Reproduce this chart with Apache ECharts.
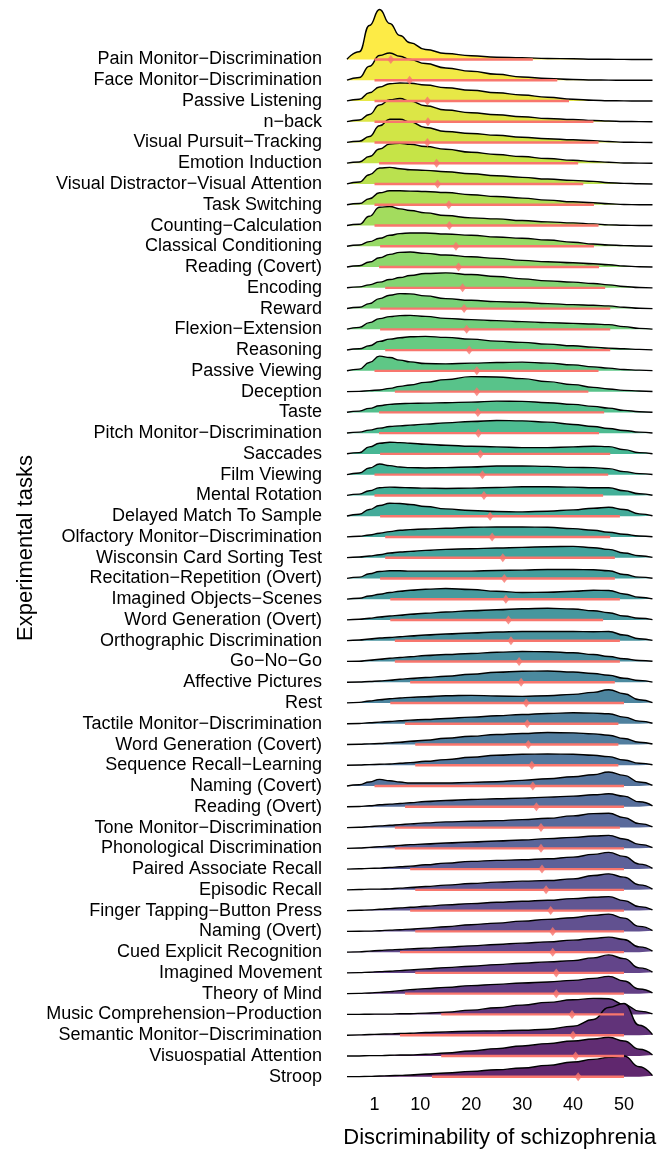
<!DOCTYPE html>
<html><head><meta charset="utf-8">
<script src="https://cdn.jsdelivr.net/npm/echarts@6/dist/echarts.min.js"></script>
<style>html,body{margin:0;padding:0;background:#fff}#chart{width:670px;height:1149px}</style>
</head><body><div id="chart"></div>
<script>
// ---- data ----
const tasks = ["Pain Monitor−Discrimination","Face Monitor−Discrimination","Passive Listening","n−back","Visual Pursuit−Tracking","Emotion Induction","Visual Distractor−Visual Attention","Task Switching","Counting−Calculation","Classical Conditioning","Reading (Covert)","Encoding","Reward","Flexion−Extension","Reasoning","Passive Viewing","Deception","Taste","Pitch Monitor−Discrimination","Saccades","Film Viewing","Mental Rotation","Delayed Match To Sample","Olfactory Monitor−Discrimination","Wisconsin Card Sorting Test","Recitation−Repetition (Overt)","Imagined Objects−Scenes","Word Generation (Overt)","Orthographic Discrimination","Go−No−Go","Affective Pictures","Rest","Tactile Monitor−Discrimination","Word Generation (Covert)","Sequence Recall−Learning","Naming (Covert)","Reading (Overt)","Tone Monitor−Discrimination","Phonological Discrimination","Paired Associate Recall","Episodic Recall","Finger Tapping−Button Press","Naming (Overt)","Cued Explicit Recognition","Imagined Movement","Theory of Mind","Music Comprehension−Production","Semantic Monitor−Discrimination","Visuospatial Attention","Stroop"];

// x positions at which the density of each task was read
const gridX = [-4.4,-2,0,2,4,6,8,11,15,20,25,30,35,40,44,47,50,53,55.6];

// relative density (same scale for all tasks), one row per task, at gridX
const densities = [
[0.2,7.7,34,50,36,24,16.7,10,6,3.7,2.3,1.7,1,0.7,0.3,0.2,0.1,0,0],
[0.1,2.7,14,24.7,27.3,24,20.7,16.7,12.3,9,6,3.3,1.7,0.7,0.3,0.1,0,0,0],
[0.1,1.7,8.3,14,17.3,18,17.7,16,13.3,10.7,8.3,6,3.7,1.7,0.7,0.3,0.1,0,0],
[0.1,1.7,7.3,16.7,22,23.3,20.7,16,11.7,9,7,5,3.3,2.3,1.3,0.7,0.3,0.1,0],
[0.1,1.3,6,16.7,23.3,23.3,20.7,15,11,9,7.3,5.3,3.7,2.7,1.7,1,0.3,0.1,0],
[0.1,1.3,6.7,14.3,19.3,20,19,16.7,14,11,8.7,6.7,4.7,3,1.7,1,0.3,0.1,0],
[0.1,2,9.3,16,16.7,15.3,14.3,13.7,12.3,10.3,8.3,6.7,5,3.7,2.7,1.3,0.7,0.3,0],
[0.1,1.3,6,12,14,14,13.7,13.3,12.3,10,8.3,6.7,4.7,3,2,1,0.3,0.1,0],
[0.1,1.3,9.3,18.3,19,16.7,15,12.7,10,7.7,6.7,5,3.7,2.7,1.7,0.7,0.3,0.1,0],
[0.1,1.3,4.7,8,11,12.7,13.3,13.3,12.3,11,9.3,8,6.3,4,2.3,1.3,0.7,0.3,0],
[0.1,1.3,5,9.3,12.7,14.7,15,13.7,12,10.3,8.7,6.7,5.3,4.3,3.3,2.3,1,0.3,0],
[0.1,1,3,5.7,8.3,10.3,12.3,14.3,15,13.3,11.3,9,7,5.7,4.3,3,1.3,0.3,0],
[0.1,1.3,5,10,13.3,15,14.7,12.7,10,8.3,7,6.3,5,4,3.3,2.7,1.3,0.3,0],
[0.2,2,6.7,10.7,12.7,13.7,14,13,11,9.7,8.7,7.7,6.7,6,5.3,4.7,2.7,1,0.2],
[0.1,1.3,4.3,8.7,11,12.3,13.3,13.7,12.7,11,9,7.7,6,4.3,3,2,1.3,0.7,0.2],
[0.1,1.7,8.3,14.7,13.3,10.7,9,7.3,7,7.7,8.3,8.7,7.7,6,4,2.7,1.3,0.7,0.2],
[0,0.3,1,1.7,3.3,5.3,6.7,9.3,12,15,14.7,13,10,7,4.3,2.7,1.3,0.7,0.2],
[0.1,1.3,4,6.7,8,8.7,9,9.3,9.7,10.3,11.3,11,9.7,8,6,4.3,2,0.7,0.2],
[0.1,1,3,5,6.7,7.3,8,9,10.3,11.7,12.7,12.3,11,8.7,6.7,4.7,2.7,1,0.2],
[0.1,1.3,7,10.7,11.7,11.3,10.7,9.7,8.7,7.7,7,6.3,6.3,7,7.7,7.3,4.3,1.3,0.2],
[0.1,1.7,6.7,10.7,9,7.7,7,6.7,7,7.7,8.7,8.7,8.3,7.3,7,6,3,1,0.2],
[0.1,1.3,4.7,7.7,8.3,8,7.7,7.3,7,7.3,8,8.7,8.7,8.3,7.7,7.7,4.7,1.7,0.2],
[0.2,2,6.7,10.7,13,12.7,11.7,9.7,7.3,5.7,4.7,4.3,5,6.3,8,9,6.7,2.3,0.4],
[0.1,0.7,2,3.7,5.3,6.7,7.3,8,8.7,9.7,10,10,9.7,8.3,6.7,4.7,2.7,1,0.2],
[0.1,0.7,1.7,3,4.7,5.7,6.3,7.3,8.3,9,9.7,10.3,11,11.3,10,8.3,4.7,2,0.4],
[0.1,1.3,4.7,7,7.7,7.7,7.3,7.3,7.3,7.3,8,8.3,9,9,8.7,7.7,4,1.3,0.2],
[0.1,1,3.3,5,6.7,8,9,10,10.7,9.7,8,6.7,7,8,9,8.7,5.3,2,0.4],
[0.1,0.7,1.7,3,4,4.7,5.7,6.7,8,9.3,10.3,11.3,11.7,11,9.3,7.3,4,1.7,0.4],
[0.1,0.7,1.7,2.7,3.3,4,4.7,5.7,6.7,7.7,8.7,9.3,9.3,9.3,9,9.3,5.7,2,0.4],
[0.1,0.3,1.3,2.3,3.3,4,4.7,6,7,8,9.3,10,9.7,8.7,7,5,2.7,1,0.2],
[0,0.3,0.7,1.3,2,3,3.7,4.7,6,8,10,11,11.3,10.3,8.7,7,4,1.7,0.2],
[0.1,0.7,2,3.3,4.3,5,5.7,6.3,7.3,7.7,7,6.7,7.3,8.7,10.7,13.3,9.3,3.3,0.5],
[0,0.3,1,1.7,2.3,3,3.7,4.3,5.3,6.7,8,9.3,10.3,11,10.7,10,6.7,2.7,0.5],
[0,0.3,0.7,1,1.7,2.3,3.3,4.3,6.3,8.3,10,11,12,11.7,10.7,9.3,6,2.3,0.5],
[0,0.3,0.7,1,1.3,2,2.7,4,5.7,8,10,11,11.3,11,10,8.7,5.3,2,0.5],
[0.1,1.3,4,6.7,5.3,4,3,3,3,3.7,4.3,5.7,7.3,9.3,11.3,14,10.7,4,0.7],
[0,0.3,1,2,2.7,3.3,4,5.3,6.3,7.3,8,8.7,9.7,10.7,12,13,10.7,5,1],
[0,0.3,1,1.7,2.3,3,3.7,4.7,5.7,6.3,7,8,9.3,11.7,14,14.3,10,4,0.7],
[0,0.3,1,1.7,2.3,3,3.7,4.3,5.3,6.3,7.3,8.3,9.7,11,12.3,13,9.3,4,0.7],
[0,0.3,0.7,1,1.7,2.3,3,4.3,6,7.7,8.7,9.3,10.3,12,14.7,16.7,12.7,5,0.7],
[0,0.3,0.7,0.7,1,1.7,2.3,3.3,4.7,6.3,7.7,8.7,9.3,11,14.3,16,12.7,5,0.7],
[0,0.3,0.7,1.3,2,2.7,3.3,4.3,5.7,7,8.3,9.3,10.3,12,13.3,14,10,4,0.7],
[0,0.2,0.3,0.7,1.3,1.7,2.3,3.3,4.7,6.7,8.3,10.3,12,13.7,16,17.3,13.3,5,0.7],
[0,0.3,1,1.7,2.3,2.7,3.3,4,5,6.3,7.7,9,10.3,12,13.7,15,12.7,5.3,1],
[0,0.3,0.7,1.3,1.7,2.3,3,4,5.3,6.7,8.3,9.7,11,12.3,15,18,14.3,5,0.7],
[0,0.3,0.7,1.3,2,3,4,5,6.3,8,9.3,10.7,11.7,13.3,15.3,17.3,12.7,4.7,0.7],
[0,0,0.2,0.3,0.3,0.7,0.7,1.3,2.3,4.3,6.7,9.3,12,14.7,16,15.7,10,3.3,0.5],
[0,0.3,0.7,1,1.3,1.7,2,2.7,3.3,4,4.3,5,6,9,15.7,27.7,31.7,10,0.5],
[0,0,0.3,0.3,0.7,1,1,1.7,3,5,7.3,10,12.3,15,17,18.7,15,6.7,1],
[0,0,0.3,0.7,1,1.3,1.7,2.7,3.7,5.3,7,8.7,11.3,14.7,17.3,19.3,20.7,10,1]
];

// interval shown by the red segment, and the diamond (mean)
const rangeLow  = [1,1,1,1,1,1.9,1,1,1,2.1,1.9,3.1,2.1,2.1,3.1,1,5.0,1.9,1.9,2.1,1,1,2.1,3.1,3.1,2.1,4.1,4.1,5.0,5.0,8.0,4.1,7.0,9.0,9.0,1,7.0,5.0,5.0,8.0,9.0,8.0,9.0,6.0,9.0,7.0,14.1,6.0,14.1,12.3];
const rangeHigh = [32.1,36.9,39.2,44.0,45.0,41.0,42.0,44.1,45.0,44.1,45.1,46.3,47.3,47.3,47.3,45.0,43.0,46.1,45.1,47.3,46.9,45.9,49.2,47.3,48.2,48.2,49.2,45.9,49.2,49.2,48.2,50,48.9,48.9,48.9,50,50,49.2,50,50,50,50,50,50,50,50,50,50,50,50];
const meanValue = [4.2,7.9,11.4,11.5,11.4,13.2,13.4,15.6,15.7,17.0,17.5,18.3,18.6,19.1,19.6,21.1,21.1,21.3,21.4,21.8,22.2,22.5,23.7,24.1,26.2,26.5,26.8,27.3,27.8,29.4,29.8,30.8,31.0,31.2,31.9,32.1,32.8,33.7,33.7,33.9,34.7,35.6,36.0,36.0,36.7,36.7,39.8,40.0,40.5,41.0];

const xTickValues = [1,10,20,30,40,50];

// ---- styling / layout ----
const N = tasks.length;
const heightScale = 1 / 20.76;
const FONT = '"Liberation Sans", Arial, Helvetica, sans-serif';
const viridisStops = ['#440154','#482475','#414487','#355F8D','#2A788E','#21918C','#22A884','#44BF70','#7AD151','#BDDF26','#FDE725'];
function hexToRgb(h){ return [1,3,5].map(k => parseInt(h.substr(k,2),16)); }
function viridis(t){
  const s = Math.max(0, Math.min(1, t)) * 10;
  const k = Math.min(9, Math.floor(s)); const f = s - k;
  const a = hexToRgb(viridisStops[k]), b = hexToRgb(viridisStops[k+1]);
  return a.map((v,j) => v + (b[j]-v)*f);
}
function fillColor(i){
  const c = viridis(1 - i/(N-1)); const al = 0.85;
  return 'rgb(' + c.map(v => Math.round(v*al + 255*(1-al))).join(',') + ')';
}
function rowBase(i){ return N - 1 - i; }

const series = [];
tasks.forEach((name, i) => {
  const base = rowBase(i);
  series.push({
    type: 'line', name: name,
    data: gridX.map((x, j) => [x, base + densities[i][j] * heightScale]),
    smooth: 0.5, smoothMonotone: 'x',
    showSymbol: false, symbol: 'none',
    lineStyle: { color: '#000', width: 1.4 },
    areaStyle: { origin: base, color: fillColor(i), opacity: 1 },
    z: 2 + i * 0.01, silent: true, animation: false
  });
});
series.push({
  type: 'custom', name: 'interval', silent: true, animation: false, z: 3,
  encode: { x: [0, 1], y: 2 },
  data: tasks.map((t, i) => [rangeLow[i], rangeHigh[i], rowBase(i)]),
  renderItem: (params, api) => {
    const y = api.value(2);
    const a = api.coord([api.value(0), y]);
    const b = api.coord([api.value(1), y]);
    return { type: 'line', shape: { x1: a[0], y1: a[1], x2: b[0], y2: b[1] },
             style: { stroke: '#F8766D', lineWidth: 2.4 } };
  }
});
series.push({
  type: 'scatter', name: 'mean', silent: true, animation: false, z: 4,
  data: meanValue.map((m, i) => [m, rowBase(i)]),
  symbol: 'diamond', symbolSize: [7, 9],
  itemStyle: { color: '#F8766D' }
});

const chart = echarts.init(document.getElementById('chart'), null, { renderer: 'canvas' });
chart.setOption({
  animation: false,
  backgroundColor: '#ffffff',
  textStyle: { fontFamily: FONT },
  grid: { left: 347, right: 17.5, top: 5.5, bottom: 72.3, containLabel: false, outerBoundsMode: 'none' },
  xAxis: {
    type: 'value', min: -4.4, max: 55.6,
    name: 'Discriminability of schizophrenia', nameLocation: 'middle', nameGap: 50,
    nameTextStyle: { fontSize: 22, color: '#000', fontFamily: FONT },
    axisLine: { show: false }, axisTick: { show: false }, splitLine: { show: false },
    axisLabel: { customValues: xTickValues, fontSize: 18, color: '#000', margin: 19, fontFamily: FONT }
  },
  yAxis: {
    type: 'value', min: 0, max: 51.6, interval: 1,
    axisLine: { show: false }, axisTick: { show: false }, splitLine: { show: false },
    axisLabel: {
      fontSize: 18, color: '#000', margin: 25, fontFamily: FONT, padding: [3, 0, 0, 0],
      formatter: v => { const r = Math.round(v); if (Math.abs(v - r) > 1e-6 || r < 0 || r > N - 1) return ''; return tasks[N - 1 - r]; }
    }
  },
  graphic: [{
    type: 'text', x: 26, y: 548, rotation: Math.PI / 2,
    style: { text: 'Experimental tasks', fontSize: 22, fill: '#000', fontFamily: FONT, align: 'center', verticalAlign: 'middle' }
  }],
  series: series
});
</script></body></html>
